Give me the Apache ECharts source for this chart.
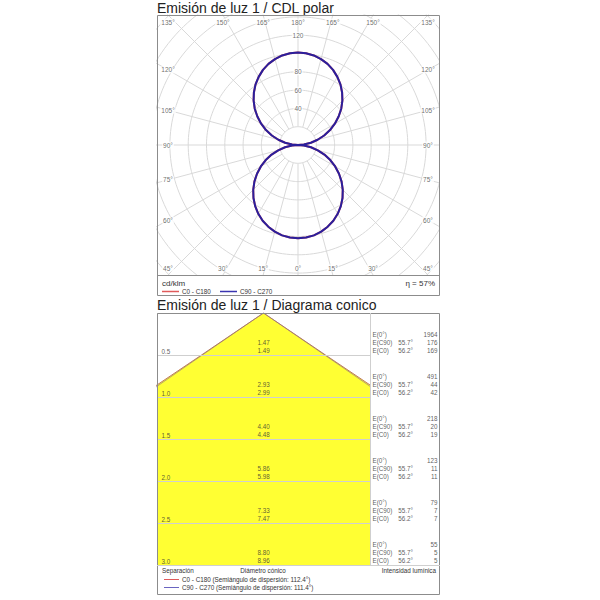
<!DOCTYPE html>
<html><head><meta charset="utf-8">
<script src="https://cdn.jsdelivr.net/npm/echarts@6/dist/echarts.min.js"></script>
<style>html,body{margin:0;padding:0;background:#fff}#c{width:600px;height:600px}</style>
</head><body><div id="c"></div>
<script>
// ---------- Polar luminous intensity (cd/klm) ----------
const gammaLower = [0,5,10,15,20,25,30,35,40,45,50,55,60,65,70,75,80,85,90];
const c0Lower  = [102,101.5,100.3,98,95,91.4,86.8,81.6,75.7,69.2,62.2,54.7,46.9,38.9,30.7,22.4,14.4,6.6,0];
const c90Lower = [102,101.5,100.3,98,95,91.4,86.8,81.6,75.7,69.2,62.2,54.7,46.9,38.9,30.7,22.4,14.4,6.6,0];
const gammaUpper = [95,100,105,110,115,120,125,130,135,140,145,150,155,160,165,170,175,180];
const c0Upper  = [6.5,14.3,22.2,30.4,38.6,46.5,54.2,61.7,68.6,75,80.9,86,90.6,94.3,97.2,99.4,100.6,101];
const c90Upper = [6.5,14.3,22.2,30.4,38.6,46.5,54.2,61.7,68.6,75,80.9,86,90.6,94.3,97.2,99.4,100.6,101];
const radialTickLabels = [40,60,80,120];
const gridRadii = [20,40,60,80,100,120,140,160,180,200,220];
const angleTicks = [0,15,30,45,60,75,90,105,120,135,150,165,180];
const etaPercent = 57;

// ---------- Cone diagram ----------
const distances = [0.5,1.0,1.5,2.0,2.5,3.0];
const diamC90 = [1.47,2.93,4.40,5.86,7.33,8.80];
const diamC0  = [1.49,2.99,4.48,5.98,7.47,8.96];
const eCenter = [1964,491,218,123,79,55];
const eC90v   = [176,44,20,11,7,5];
const eC0v    = [169,42,19,11,7,5];
const halfAngleC90 = 55.7, halfAngleC0 = 56.2;
const spreadC0 = 112.4, spreadC90 = 111.4;

// ---------- layout ----------
const FONT = 'Liberation Sans, Arial, Helvetica, sans-serif';
const PX = 0.915; // px per cd/klm
const P = {left:157, top:15, width:282, height:260};
const xMaxP = P.width/2/PX, yMaxP = P.height/2/PX;
const C = {left:157, top:313, width:213, height:252};
const coneXMax = 1.28;
const R = {left:370, top:313, width:70, height:252};

const RED = '#e05a5a', BLUE = '#2a1f9c', GRID = '#d9d9d9';
const rad = d => d*Math.PI/180;

function curve(gL, iL, gU, iU){
  const g = gL.concat(gU), I = iL.concat(iU), pts = [];
  for (let i=0;i<g.length;i++) pts.push([I[i]*Math.sin(rad(g[i])), -I[i]*Math.cos(rad(g[i]))]);
  for (let i=g.length-1;i>=0;i--) pts.push([-I[i]*Math.sin(rad(g[i])), -I[i]*Math.cos(rad(g[i]))]);
  return pts;
}

const series = [];
// polar grid circles
gridRadii.forEach(r=>{
  const pts=[]; for(let a=0;a<=360;a+=2) pts.push([r*Math.cos(rad(a)), r*Math.sin(rad(a))]);
  series.push({type:'line',xAxisIndex:0,yAxisIndex:0,data:pts,symbol:'none',silent:true,
    lineStyle:{color:GRID,width:1},z:1});
});
// rays every 15 deg
for(let a=0;a<360;a+=15){
  series.push({type:'line',xAxisIndex:0,yAxisIndex:0,symbol:'none',silent:true,z:1,
    data:[[20*Math.sin(rad(a)),-20*Math.cos(rad(a))],[300*Math.sin(rad(a)),-300*Math.cos(rad(a))]],
    lineStyle:{color:GRID,width:1}});
}
// curves
series.push({name:'C0 - C180',type:'line',xAxisIndex:0,yAxisIndex:0,symbol:'none',z:3,
  data:curve(gammaLower,c0Lower,gammaUpper,c0Upper),lineStyle:{color:RED,width:2}});
series.push({name:'C90 - C270',type:'line',xAxisIndex:0,yAxisIndex:0,symbol:'none',z:4,
  data:curve(gammaLower,c90Lower,gammaUpper,c90Upper),lineStyle:{color:BLUE,width:2}});

// angle labels
const hx = (P.width/2 - 11)/PX, vy = (P.height/2 - 7)/PX, hEdge = P.height/2/PX;
const angLab = [];
angleTicks.forEach(deg=>{
  [1,-1].forEach(side=>{
    if ((deg===0||deg===180) && side===-1) return;
    const s=Math.sin(rad(deg)), c=Math.cos(rad(deg));
    let x,y;
    if (Math.abs(c)>1e-9 && hEdge*Math.abs(s/c) <= hx+1e-6){
      x = side*Math.min(hEdge*Math.abs(s/c), hx); y = c>0 ? -vy : vy;
    } else { x = side*hx; y = -hx*c/s; }
    angLab.push({value:[x,y], name: deg+'°'});
  });
});
const labBase = {show:true,fontSize:6.5,color:'#4a4a4a',fontFamily:FONT,textBorderWidth:0,textShadowBlur:0};
series.push({type:'scatter',xAxisIndex:0,yAxisIndex:0,symbolSize:1,silent:true,z:6,
  itemStyle:{color:'rgba(0,0,0,0)'},data:angLab,
  label:Object.assign({},labBase,{position:'inside',formatter:p=>p.name,backgroundColor:'#fff',padding:[0,1]})});
series.push({type:'scatter',xAxisIndex:0,yAxisIndex:0,symbolSize:1,silent:true,z:6,
  itemStyle:{color:'rgba(0,0,0,0)'},data:radialTickLabels.map(r=>({value:[0,r],name:String(r)})),
  label:Object.assign({},labBase,{position:'inside',formatter:p=>p.name,backgroundColor:'#fff',padding:[0,1]})});

// cone
function coneLine(D){
  const pts=[];
  for(let i=D.length-1;i>=0;i--) pts.push([-D[i]/2, distances[i]]);
  pts.push([0,0]);
  for(let i=0;i<D.length;i++) pts.push([D[i]/2, distances[i]]);
  return pts;
}
series.push({type:'line',xAxisIndex:1,yAxisIndex:1,symbol:'none',silent:true,z:2,
  data:coneLine(diamC0),lineStyle:{width:0,opacity:0},
  areaStyle:{color:'#ffff33',opacity:1,origin:'end'}});
series.push({name:'C0 - C180 cone',type:'line',xAxisIndex:1,yAxisIndex:1,symbol:'none',z:4,
  data:coneLine(diamC0),lineStyle:{color:'#c27a5e',width:1}});
series.push({name:'C90 - C270 cone',type:'line',xAxisIndex:1,yAxisIndex:1,symbol:'none',z:4,
  data:coneLine(diamC90),lineStyle:{color:'#8a7a80',width:1,opacity:0.6}});
const smallLab = Object.assign({},labBase,{fontSize:6.3,color:'#333',lineHeight:8});
series.push({type:'scatter',xAxisIndex:1,yAxisIndex:1,symbolSize:1,silent:true,z:6,
  itemStyle:{color:'rgba(0,0,0,0)'},
  data:distances.map((d,i)=>({value:[0,d],name:diamC90[i].toFixed(2)+'\n'+diamC0[i].toFixed(2)})),
  label:Object.assign({},smallLab,{position:[0.5,0],align:'center',verticalAlign:'bottom',formatter:p=>p.name})});
series.push({type:'scatter',xAxisIndex:1,yAxisIndex:1,symbolSize:1,silent:true,z:6,
  itemStyle:{color:'rgba(0,0,0,0)'},
  data:distances.map(d=>({value:[-coneXMax,d],name:d.toFixed(1)})),
  label:Object.assign({},smallLab,{position:[5,-3.5],align:'left',verticalAlign:'middle',formatter:p=>p.name})});
// right column
series.push({type:'scatter',xAxisIndex:2,yAxisIndex:2,symbolSize:1,silent:true,z:6,
  itemStyle:{color:'rgba(0,0,0,0)'},
  data:distances.map(d=>({value:[0,d],name:'E(0°)\nE(C90)\nE(C0)'})),
  label:Object.assign({},smallLab,{position:[3,0],align:'left',verticalAlign:'bottom',formatter:p=>p.name})});
series.push({type:'scatter',xAxisIndex:2,yAxisIndex:2,symbolSize:1,silent:true,z:6,
  itemStyle:{color:'rgba(0,0,0,0)'},
  data:distances.map(d=>({value:[0.41,d],name:halfAngleC90.toFixed(1)+'°\n'+halfAngleC0.toFixed(1)+'°'})),
  label:Object.assign({},smallLab,{position:[0,0],align:'left',verticalAlign:'bottom',formatter:p=>p.name})});
series.push({type:'scatter',xAxisIndex:2,yAxisIndex:2,symbolSize:1,silent:true,z:6,
  itemStyle:{color:'rgba(0,0,0,0)'},
  data:distances.map((d,i)=>({value:[1,d],name:eCenter[i]+'\n'+eC90v[i]+'\n'+eC0v[i]})),
  label:Object.assign({},smallLab,{position:[-2,0],align:'right',verticalAlign:'bottom',formatter:p=>p.name})});

const hidden = {show:false};
const txt = (x,y,t,fs,opt) => ({type:'text',x,y,z:100,silent:true,
  style:Object.assign({text:t,font:fs+'px '+FONT,fill:'#333',textVerticalAlign:'middle',textAlign:'left'},opt||{})});
const ln = (x1,y1,x2,y2,color,w) => ({type:'line',z:100,silent:true,shape:{x1,y1,x2,y2},style:{stroke:color||'#8c8c8c',lineWidth:w||1}});

const option = {
  animation:false,
  backgroundColor:'#fff',
  grid:[
    {left:P.left,top:P.top,width:P.width,height:P.height},
    {left:C.left,top:C.top,width:C.width,height:C.height},
    {left:R.left,top:R.top,width:R.width,height:R.height}
  ],
  xAxis:[
    {gridIndex:0,type:'value',min:-xMaxP,max:xMaxP,show:false},
    {gridIndex:1,type:'value',min:-coneXMax,max:coneXMax,show:false},
    {gridIndex:2,type:'value',min:0,max:1,show:false}
  ],
  yAxis:[
    {gridIndex:0,type:'value',min:-yMaxP,max:yMaxP,show:false},
    {gridIndex:1,type:'value',min:0,max:3,interval:0.5,inverse:true,z:5,
      axisLine:hidden,axisTick:hidden,axisLabel:hidden,splitLine:{show:true,lineStyle:{color:'#cfcfcf',width:1}}},
    {gridIndex:2,type:'value',min:0,max:3,inverse:true,show:false}
  ],
  series,
  graphic:[
    txt(157,8,'Emisión de luz 1 / CDL polar',14,{fill:'#222'}),
    {type:'rect',z:100,silent:true,shape:{x:157.5,y:15.5,width:282,height:280},style:{fill:'none',stroke:'#8c8c8c',lineWidth:1}},
    ln(157,275.5,440,275.5),
    txt(162,283,'cd/klm',8),
    txt(435,283,'η = '+etaPercent+'%',8,{textAlign:'right'}),
    ln(162,291.5,179,291.5,RED,1.5),
    txt(182,291.5,'C0 - C180',6.3),
    ln(220,291.5,237,291.5,'#3a34b0',1.5),
    txt(240,291.5,'C90 - C270',6.3),
    txt(157,305,'Emisión de luz 1 / Diagrama conico',14,{fill:'#222'}),
    {type:'rect',z:100,silent:true,shape:{x:157.5,y:313.5,width:282,height:281},style:{fill:'none',stroke:'#8c8c8c',lineWidth:1}},
    ln(370.5,313,370.5,565,'#cfcfcf'),
    ln(157,565.5,440,565.5,'#cfcfcf'),
    txt(162,570.5,'Separación',6.3),
    txt(263,570.5,'Diámetro cónico',6.3,{textAlign:'center'}),
    txt(436,570.5,'Intensidad lumínica',6.3,{textAlign:'right'}),
    ln(164,579.5,179,579.5,RED,1),
    txt(182,579.5,'C0 - C180 (Semiángulo de dispersión: '+spreadC0.toFixed(1)+'°)',6.3),
    ln(164,587.5,179,587.5,'#6a64c0',1),
    txt(182,587.5,'C90 - C270 (Semiángulo de dispersión: '+spreadC90.toFixed(1)+'°)',6.3)
  ]
};
const chart = echarts.init(document.getElementById('c'), null, {renderer:'svg', width:600, height:600});
chart.setOption(option);
</script></body></html>
